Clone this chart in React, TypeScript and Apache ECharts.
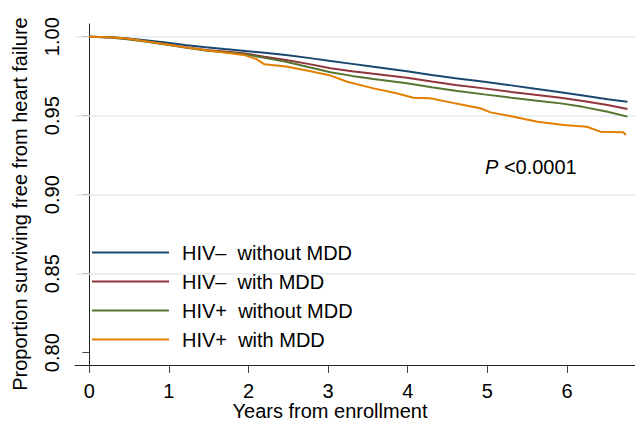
import React, { useEffect, useRef } from "react";
import * as echarts from "echarts";

const FONT = "'Liberation Sans', Arial, Helvetica, sans-serif";

const seriesNames = ["HIV–  without MDD", "HIV–  with MDD", "HIV+  without MDD", "HIV+  with MDD"];
const seriesColors = ["#1a476f", "#90353b", "#55752f", "#e37e00"];

// years from enrollment (shared by the first three curves)
const timesA = [0, 0.25, 0.45, 0.7, 0.96, 1.2, 1.46, 1.7, 1.96, 2.2, 2.47, 2.75, 3.03, 3.3, 3.57, 3.99, 4.3, 4.6, 4.96, 5.3, 5.6, 5.92, 6.2, 6.51, 6.76];
const hivNegNoMdd = [1.0, 0.9997, 0.999, 0.9978, 0.9963, 0.9948, 0.9934, 0.9922, 0.991, 0.9898, 0.9884, 0.9866, 0.9846, 0.9828, 0.981, 0.9781, 0.9758, 0.9737, 0.9715, 0.9692, 0.967, 0.9648, 0.9628, 0.9604, 0.9589];
const hivNegMdd = [1.0, 0.9996, 0.9988, 0.9972, 0.9952, 0.9934, 0.9916, 0.9906, 0.9893, 0.9873, 0.9853, 0.9828, 0.98, 0.9782, 0.9765, 0.974, 0.9716, 0.9695, 0.9673, 0.965, 0.9632, 0.9614, 0.9593, 0.9568, 0.9542];
const hivPosNoMdd = [1.0, 0.9995, 0.9986, 0.997, 0.995, 0.9932, 0.9913, 0.9902, 0.9889, 0.9866, 0.9842, 0.9808, 0.9775, 0.9752, 0.9733, 0.9705, 0.968, 0.9658, 0.9635, 0.9614, 0.9596, 0.9578, 0.9556, 0.9525, 0.9494];

const timesB = [0, 0.25, 0.45, 0.7, 0.96, 1.2, 1.46, 1.7, 1.96, 2.1, 2.2, 2.47, 2.75, 3.03, 3.24, 3.57, 3.86, 4.07, 4.28, 4.49, 4.7, 4.91, 5.04, 5.33, 5.63, 5.96, 6.25, 6.42, 6.71, 6.74];
const hivPosMdd = [1.0, 0.9997, 0.999, 0.9972, 0.9952, 0.9933, 0.9916, 0.99, 0.9882, 0.9858, 0.9825, 0.9812, 0.9785, 0.9754, 0.9715, 0.9673, 0.9642, 0.9614, 0.961, 0.9589, 0.9568, 0.9547, 0.9521, 0.9494, 0.9462, 0.9441, 0.943, 0.9399, 0.9395, 0.9378];

const xTicks = [0, 1, 2, 3, 4, 5, 6];
const yTicks = [0.8, 0.85, 0.9, 0.95, 1.0];
const gridValues = [0.85, 0.9, 0.95, 1.0];

const zip = (t: number[], v: number[]) => t.map((x, i) => [x, v[i]]);

export default function App() {
  const ref = useRef<HTMLDivElement>(null);
  useEffect(() => {
    if (!ref.current) return;
    const chart = echarts.init(ref.current, null, { renderer: "svg" });
    const curves = [
      zip(timesA, hivNegNoMdd),
      zip(timesA, hivNegMdd),
      zip(timesA, hivPosNoMdd),
      zip(timesB, hivPosMdd),
    ];
    const series: any[] = curves.map((d, i) => ({
      name: seriesNames[i],
      type: "line",
      data: d,
      showSymbol: false,
      symbol: "none",
      color: seriesColors[i],
      lineStyle: { width: 2, color: seriesColors[i] },
      z: 3,
    }));
    series.push({
      name: "grid",
      type: "line",
      data: [],
      silent: true,
      z: 1,
      markLine: {
        silent: true,
        symbol: "none",
        z: 1,
        label: { show: false },
        lineStyle: { color: "#e4edef", width: 1.5, type: "solid" },
        data: gridValues.map((v) => ({ yAxis: v })),
      },
    });
    chart.setOption({
      animation: false,
      backgroundColor: "#fff",
      grid: { left: 75, right: 0, top: 24, bottom: 56, containLabel: false },
      xAxis: {
        type: "value",
        min: -0.18,
        max: 6.855,
        axisLine: { show: true, lineStyle: { color: "#222", width: 1 } },
        axisTick: { show: true, length: 8, customValues: xTicks, lineStyle: { color: "#444" } },
        axisLabel: {
          customValues: xTicks,
          fontSize: 20,
          lineHeight: 14,
          fontFamily: FONT,
          color: "#000",
          margin: 19,
        },
        splitLine: { show: false },
      },
      yAxis: {
        type: "value",
        min: 0.79222,
        max: 1.00804,
        axisLine: { show: true, lineStyle: { color: "#222", width: 1 } },
        axisTick: { show: true, length: 7, customValues: yTicks, lineStyle: { color: "#444" } },
        axisLabel: {
          customValues: yTicks,
          rotate: 90,
          fontSize: 20,
          fontFamily: FONT,
          color: "#000",
          margin: 13,
          formatter: (v: number) => v.toFixed(2),
        },
        splitLine: { show: false },
      },
      legend: {
        orient: "vertical",
        left: 92,
        top: 238,
        padding: 0,
        itemGap: 0,
        itemWidth: 77,
        itemHeight: 2,
        icon: "rect",
        selectedMode: false,
        data: seriesNames,
        textStyle: {
          fontSize: 20,
          fontFamily: FONT,
          color: "#000",
          lineHeight: 29,
          padding: [0, 0, 0, 8],
        },
      },
      graphic: [
        {
          type: "text",
          x: 20,
          y: 204,
          rotation: Math.PI / 2,
          style: {
            text: "Proportion surviving free from heart failure",
            fontSize: 20,
            fontFamily: FONT,
            fill: "#000",
            align: "center",
            verticalAlign: "middle",
          },
        },
        {
          type: "text",
          x: 330,
          y: 411,
          style: {
            text: "Years from enrollment",
            fontSize: 20,
            lineHeight: 16,
            fontFamily: FONT,
            fill: "#000",
            align: "center",
            verticalAlign: "middle",
          },
        },
        {
          type: "text",
          x: 485,
          y: 167,
          style: {
            text: "{i|P} <0.0001",
            fontSize: 20,
            fontFamily: FONT,
            fill: "#000",
            align: "left",
            verticalAlign: "middle",
            rich: {
              i: { fontStyle: "italic", fontSize: 20, fontFamily: FONT, fill: "#000" },
            },
          },
        },
      ],
      series,
    });
    return () => chart.dispose();
  }, []);
  return <div ref={ref} style={{ width: 635, height: 421, position: "absolute", left: 0, top: 0 }} />;
}
